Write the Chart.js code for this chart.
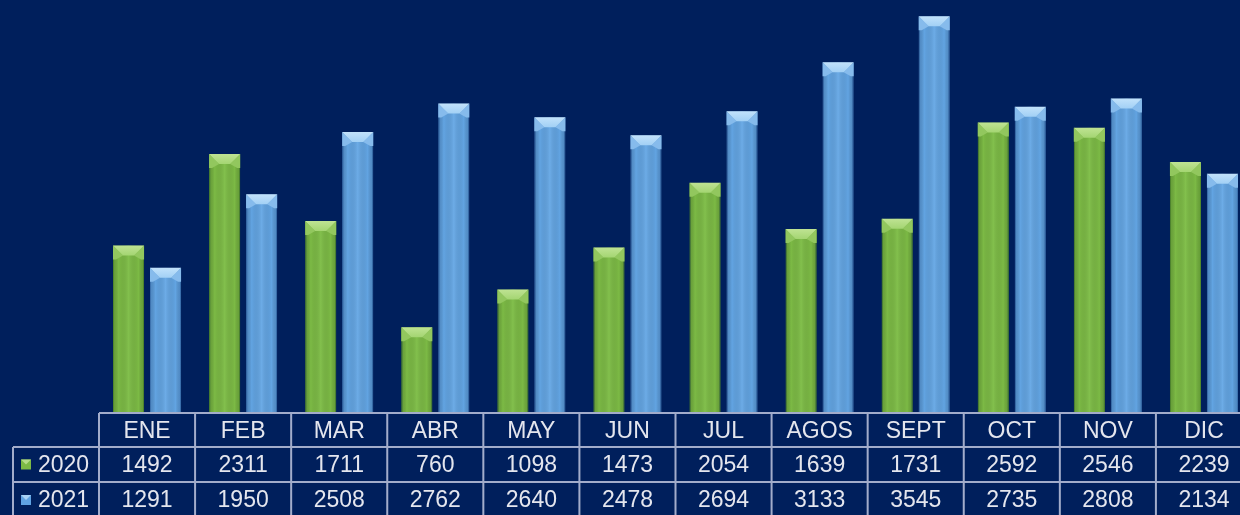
<!DOCTYPE html>
<html>
<head>
<meta charset="utf-8">
<script src="https://cdn.jsdelivr.net/npm/chart.js@4"></script>
<style>
  html, body { margin: 0; padding: 0; background: #001f5c; overflow: hidden; }
  #wrap { width: 1240px; height: 515px; overflow: hidden; }
  #box { width: 1252px; height: 515px; }
</style>
</head>
<body>
<div id="wrap"><div id="box"><canvas id="chart"></canvas></div></div>
<script>
const months = ['ENE', 'FEB', 'MAR', 'ABR', 'MAY', 'JUN', 'JUL', 'AGOS', 'SEPT', 'OCT', 'NOV', 'DIC'];
const serie2020 = [1492, 2311, 1711, 760, 1098, 1473, 2054, 1639, 1731, 2592, 2546, 2239];
const serie2021 = [1291, 1950, 2508, 2762, 2640, 2478, 2694, 3133, 3545, 2735, 2808, 2134];

const TXT = '#e4e6ee';
const LINE = 'rgba(190,198,222,0.85)';

// shading + bevel drawn over each bar
const bevel = {
    id: 'bevel',
    afterDatasetsDraw(chart) {
        const c = chart.ctx;
        const looks = [
            { top: '#bfe393', top2: '#a4d572', side: '#92c75e', hi: 'rgba(150,210,100,0.25)', edge: 'rgba(50,100,25,0.3)' },
            { top: '#c2e2fb', top2: '#a2d0f5', side: '#86bbec', hi: 'rgba(140,195,245,0.25)', edge: 'rgba(30,70,130,0.3)' }
        ];
        chart.data.datasets.forEach((ds, di) => {
            const lk = looks[di];
            chart.getDatasetMeta(di).data.forEach(bar => {
                const l = bar.x - bar.width / 2, r = bar.x + bar.width / 2;
                const t = bar.y, b = bar.base, h = 10;
                c.save();
                const g = c.createLinearGradient(l, 0, r, 0);
                g.addColorStop(0, lk.edge);
                g.addColorStop(0.18, 'rgba(0,0,0,0)');
                g.addColorStop(0.5, lk.hi);
                g.addColorStop(0.82, 'rgba(0,0,0,0)');
                g.addColorStop(1, lk.edge);
                c.fillStyle = g;
                c.fillRect(l, t, r - l, b - t);
                // side bevels
                c.fillStyle = lk.side;
                c.beginPath();
                c.moveTo(l, t); c.lineTo(l + h, t + h); c.lineTo(l + 3, t + h + 4); c.lineTo(l, t + h + 4);
                c.closePath(); c.fill();
                c.beginPath();
                c.moveTo(r, t); c.lineTo(r - h, t + h); c.lineTo(r - 3, t + h + 4); c.lineTo(r, t + h + 4);
                c.closePath(); c.fill();
                // top face
                const tg = c.createLinearGradient(0, t, 0, t + h);
                tg.addColorStop(0, lk.top);
                tg.addColorStop(1, lk.top2);
                c.fillStyle = tg;
                c.beginPath();
                c.moveTo(l, t); c.lineTo(r, t); c.lineTo(r - h, t + h); c.lineTo(l + h, t + h);
                c.closePath(); c.fill();
                c.restore();
            });
        });
    }
};

// data table under the plot
const dataTable = {
    id: 'dataTable',
    afterDraw(chart) {
        const c = chart.ctx;
        const a = chart.chartArea;
        const xs = chart.scales.x;
        const colW = (a.right - a.left) / months.length;
        const rows = [a.bottom + 1, 447, 482, 517];
        const leftX = 13;
        c.save();
        c.strokeStyle = LINE;
        c.lineWidth = 2;
        c.beginPath();
        c.moveTo(a.left, rows[0]); c.lineTo(a.right + 2, rows[0]);
        for (let i = 1; i < 3; i++) { c.moveTo(leftX, rows[i]); c.lineTo(a.right + 2, rows[i]); }
        c.moveTo(leftX, rows[1]); c.lineTo(leftX, rows[3]);
        for (let i = 0; i <= months.length; i++) {
            const x = a.left + i * colW;
            c.moveTo(x, rows[0]); c.lineTo(x, rows[3]);
        }
        c.stroke();

        c.fillStyle = TXT;
        c.font = '23px "Liberation Sans", Arial, sans-serif';
        c.textAlign = 'center';
        c.textBaseline = 'middle';
        months.forEach((m, i) => {
            const x = xs.getPixelForValue(i);
            c.fillText(m, x, (rows[0] + rows[1]) / 2 + 2);
            c.fillText(String(serie2020[i]), x, (rows[1] + rows[2]) / 2 + 1);
            c.fillText(String(serie2021[i]), x, (rows[2] + rows[3]) / 2 + 1);
        });

        const keys = [['2020', '#7cba45', '#b5dc88'], ['2021', '#5fa3e3', '#a8d2f6']];
        keys.forEach((k, i) => {
            const cy = i === 0 ? 464.5 : 500;
            const sx = 21, sy = cy - 5, s = 10;
            c.fillStyle = k[1];
            c.fillRect(sx, sy, s, s);
            c.fillStyle = k[2];
            c.beginPath();
            c.moveTo(sx, sy); c.lineTo(sx + s, sy); c.lineTo(sx + s / 2, sy + s / 2);
            c.closePath(); c.fill();
            c.fillStyle = TXT;
            c.textAlign = 'left';
            c.fillText(k[0], 38, cy + 1);
        });
        c.restore();
    }
};

new Chart(document.getElementById('chart'), {
    type: 'bar',
    data: {
        labels: months,
        datasets: [{
            label: '2020',
            data: serie2020,
            backgroundColor: '#7cba45',
            borderColor: '#5f9a34',
            borderWidth: 1,
            categoryPercentage: 0.77,
            barPercentage: 0.84
        }, {
            label: '2021',
            data: serie2021,
            backgroundColor: '#62a4e2',
            borderColor: '#4a86c4',
            borderWidth: 1,
            categoryPercentage: 0.77,
            barPercentage: 0.84
        }]
    },
    options: {
        responsive: true,
        maintainAspectRatio: false,
        animation: false,
        layout: { padding: { left: 99, right: 0, top: 0, bottom: 103 } },
        plugins: {
            legend: { display: false },
            tooltip: { enabled: false }
        },
        scales: {
            x: { display: false },
            y: { display: false, min: 0, max: 3690 }
        }
    },
    plugins: [bevel, dataTable]
});
</script>
</body>
</html>
